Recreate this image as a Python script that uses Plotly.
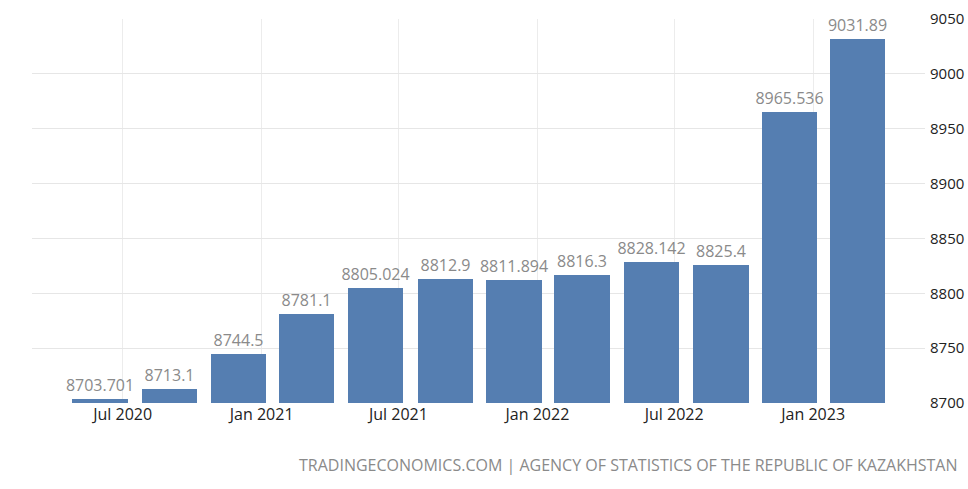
import plotly.graph_objects as go

# Quarterly readings (date of each reading and its value)
dates = [
    "2020-06-01", "2020-09-01", "2020-12-01", "2021-03-01",
    "2021-06-01", "2021-09-01", "2021-12-01", "2022-03-01",
    "2022-06-01", "2022-09-01", "2022-12-01", "2023-03-01",
]
values = [
    8703.701, 8713.1, 8744.5, 8781.1,
    8805.024, 8812.9, 8811.894, 8816.3,
    8828.142, 8825.4, 8965.536, 9031.89,
]
labels = ["8703.701", "8713.1", "8744.5", "8781.1", "8805.024", "8812.9",
          "8811.894", "8816.3", "8828.142", "8825.4", "8965.536", "9031.89"]

x_tick_vals = ["2020-07-01", "2021-01-01", "2021-07-01",
               "2022-01-01", "2022-07-01", "2023-01-01"]
x_tick_text = ["Jul 2020", "Jan 2021", "Jul 2021", "Jan 2022", "Jul 2022", "Jan 2023"]
y_ticks = [8700, 8750, 8800, 8850, 8900, 8950, 9000, 9050]

DAY_MS = 86400000

fig = go.Figure(
    go.Bar(
        x=dates,
        y=values,
        width=[73 * DAY_MS] * len(dates),
        marker=dict(color="#557eb1", line=dict(width=0)),
        text=labels,
        texttemplate="%{text}",
        textposition="outside",
        constraintext="none",
        textfont=dict(family="Open Sans", size=16, color="#8a8a8a"),
        cliponaxis=False,
        hoverinfo="x+y",
    )
)

fig.update_layout(
    width=968,
    height=489,
    margin=dict(l=32, r=43, t=19, b=86, autoexpand=False),
    paper_bgcolor="white",
    plot_bgcolor="white",
    showlegend=False,
    bargap=0,
    uniformtext=dict(mode=False),
    xaxis=dict(
        type="date",
        range=["2020-03-03", "2023-05-29"],
        tickvals=x_tick_vals,
        ticktext=x_tick_text,
        showgrid=True,
        gridcolor="#ececec",
        gridwidth=1,
        zeroline=False,
        showline=False,
        ticks="",
        automargin=False,
        tickfont=dict(family="Open Sans", size=16, color="#222222"),
    ),
    yaxis=dict(
        side="right",
        range=[8700, 9050],
        tickvals=y_ticks,
        showgrid=True,
        gridcolor="#e6e6e6",
        gridwidth=1,
        zeroline=False,
        showline=False,
        ticks="",
        automargin=False,
        ticklabelstandoff=4,
        tickfont=dict(family="Open Sans", size=15, color="#222222"),
    ),
    annotations=[
        dict(
            text="TRADINGECONOMICS.COM | AGENCY OF STATISTICS OF THE REPUBLIC OF KAZAKHSTAN",
            xref="paper", yref="paper",
            x=1.039, y=-0.1606,
            xanchor="right", yanchor="middle",
            showarrow=False,
            font=dict(family="Open Sans", size=16, color="#8a8a8a"),
        )
    ],
)

fig.write_html("out.html")
